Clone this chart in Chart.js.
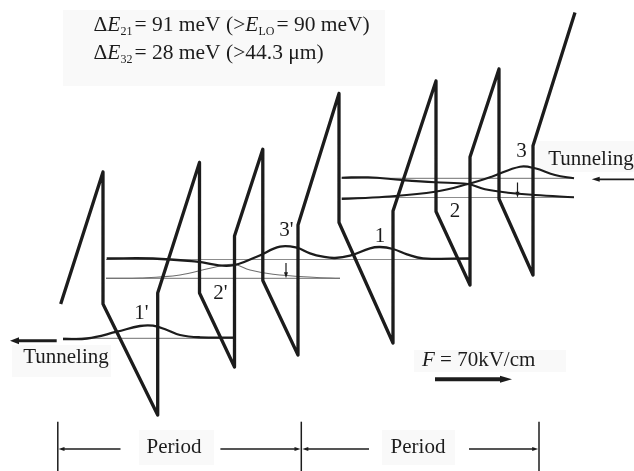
<!DOCTYPE html>
<html>
<head>
<meta charset="utf-8">
<script src="https://cdn.jsdelivr.net/npm/chart.js@4/dist/chart.umd.min.js"></script>
<style>
  html, body { margin: 0; padding: 0; background: #fff; }
  #wrap { width: 634px; height: 471px; }
</style>
</head>
<body>
<div id="wrap"><canvas id="c" width="634" height="471"></canvas></div>
<script>
// conduction band edge, two periods (x = position, y = drawing depth)
const bandX = [60.7, 103, 103, 157.7, 157.7, 199.5, 199.5, 234.5, 234.5, 262.8, 262.8, 298, 298, 339, 339, 393, 393, 436, 436, 470, 470, 499, 499, 533, 533, 575];
const bandY = [304, 172, 304, 415, 293, 162.5, 293, 367, 236, 149.3, 280.5, 355, 225, 93.5, 222.5, 343, 211, 81, 211.5, 285, 157, 69, 199, 275, 145.7, 12.5];

// subband levels (thin lines): [x start, x end, y]
const levelNames = ["1'", "3'/1", "2'", "3", "2"];
const levelX0 = [63, 106, 106, 341.7, 341.7];
const levelX1 = [233.5, 469, 340, 574, 574];
const levelY = [338.3, 259.5, 278.3, 178.3, 197.5];

// wavefunctions |psi|^2 drawn on their levels
const wf1pX = [63, 87, 117, 140, 153, 167, 180, 200, 233.5];
const wf1pY = [339, 338.5, 331.7, 326, 325.7, 330, 335, 337.3, 337.7];
const wf3pX = [106.7, 153, 196.7, 230, 256.7, 280, 296.7, 310, 323, 335, 350, 370, 380, 393, 407, 423, 469];
const wf3pY = [258.5, 258.5, 261.7, 265.7, 256.7, 246.7, 247.7, 253.3, 256.7, 258, 255.7, 248.3, 247, 249, 254.3, 258.3, 258.5];
const wf2pX = [106, 140, 180, 210, 233, 250, 273, 313, 340];
const wf2pY = [278.3, 278, 275, 268.3, 264.3, 270, 274.3, 277.3, 278.3];
const wf2X = [341.7, 368, 401.7, 435, 468, 485, 508, 535, 574];
const wf2Y = [177.7, 177.3, 180, 182.3, 184, 189.3, 192.7, 195, 197.3];
const wf3X = [341.7, 385, 435, 468, 491.7, 520, 535, 555, 574];
const wf3Y = [199, 196.7, 191.7, 184, 176.7, 166.7, 168.3, 175, 178.3];

const ink = '#1c1c1c';
const pts = (xs, ys) => xs.map((x, i) => ({ x, y: ys[i] }));

const datasets = [
  { label: 'band', data: pts(bandX, bandY), borderColor: ink, borderWidth: 3.3, tension: 0, order: 0, borderJoinStyle: 'round' },
  { label: "psi1'", data: pts(wf1pX, wf1pY), borderColor: ink, borderWidth: 2.3, tension: 0.4, order: 2 },
  { label: "psi3'", data: pts(wf3pX, wf3pY), borderColor: ink, borderWidth: 2.3, tension: 0.4, order: 2 },
  { label: "psi2'", data: pts(wf2pX, wf2pY), borderColor: '#6e6e6e', borderWidth: 1.1, tension: 0.4, order: 3 },
  { label: 'psi2', data: pts(wf2X, wf2Y), borderColor: ink, borderWidth: 2.1, tension: 0.4, order: 2 },
  { label: 'psi3', data: pts(wf3X, wf3Y), borderColor: ink, borderWidth: 2.1, tension: 0.4, order: 2 }
];
levelNames.forEach((n, i) => {
  datasets.push({
    label: 'E' + n,
    data: [{ x: levelX0[i], y: levelY[i] }, { x: levelX1[i], y: levelY[i] }],
    borderColor: '#8c8c8c', borderWidth: 1.2, order: 4
  });
});

const serif = '"Liberation Serif", "DejaVu Serif", serif';

// faint scan boxes behind the labels
const boxes = [[63, 10, 385, 86], [12, 345, 111, 377], [414, 350, 566, 372], [139, 430, 214, 465], [382, 430, 455, 465], [536, 141, 634, 172]];

const labels = [
  { t: "1'", x: 141.5, y: 313 }, { t: "2'", x: 220.4, y: 293.5 }, { t: "3'", x: 286.3, y: 230 },
  { t: '1', x: 380, y: 236.5 }, { t: '2', x: 455, y: 211.7 }, { t: '3', x: 521.5, y: 151.7 },
  { t: 'Tunneling', x: 66, y: 357 }, { t: 'Tunneling', x: 591, y: 159 },
  { t: 'Period', x: 174, y: 447 }, { t: 'Period', x: 418, y: 447 }
];

// arrows: from -> to (head at "to"), width, head length, head half width
const arrows = [
  [56.7, 340.7, 10, 340.7, 3, 9, 3.5],
  [634, 179.3, 591.7, 179.3, 1.8, 8, 2.5],
  [435, 379.3, 512, 379.3, 4, 12, 3.5],
  [286, 263, 286, 278.3, 1.2, 6, 2],
  [517.5, 182.5, 517.5, 197.7, 1.2, 6, 2],
  [120.5, 449, 58.5, 449, 1.5, 6, 2],
  [220.4, 449, 300.5, 449, 1.5, 6, 2],
  [369, 449, 302.3, 449, 1.5, 6, 2],
  [469, 449, 538.2, 449, 1.5, 6, 2]
];
const periodEdges = [57.8, 301.3, 539];

const rich1 = [['Δ'], ['E', 'i'], ['21', 's'], ['= 91 meV (>'], ['E', 'i'], ['LO', 's'], ['= 90 meV)']];
const rich2 = [['Δ'], ['E', 'i'], ['32', 's'], ['= 28 meV (>44.3 μm)']];
const richF = [['F', 'i'], [' = 70kV/cm']];

function drawRich(ctx, parts, x, y, size) {
  ctx.textAlign = 'left';
  ctx.textBaseline = 'alphabetic';
  parts.forEach(([t, k]) => {
    const sub = k === 's';
    ctx.font = (k === 'i' ? 'italic ' : '') + (sub ? Math.round(size * 0.55) : size) + 'px ' + serif;
    ctx.fillText(t, x, sub ? y + 4 : y);
    x += ctx.measureText(t).width + (sub ? 2 : 0);
  });
}

const decor = {
  id: 'decor',
  beforeDatasetsDraw(chart) {
    const { ctx, scales: { x, y } } = chart;
    ctx.save();
    ctx.fillStyle = '#f9f9f9';
    boxes.forEach(([a, b, c, d]) => {
      const px = x.getPixelForValue(a), py = y.getPixelForValue(b);
      ctx.fillRect(px, py, x.getPixelForValue(c) - px, y.getPixelForValue(d) - py);
    });
    ctx.restore();
  },
  afterDatasetsDraw(chart) {
    const { ctx, scales: { x, y } } = chart;
    ctx.save();
    ctx.fillStyle = ink;
    ctx.strokeStyle = ink;
    arrows.forEach(([x0, y0, x1, y1, w, hl, hw]) => {
      const a = x.getPixelForValue(x0), b = y.getPixelForValue(y0);
      const c = x.getPixelForValue(x1), d = y.getPixelForValue(y1);
      const ang = Math.atan2(d - b, c - a);
      ctx.lineWidth = w;
      ctx.beginPath();
      ctx.moveTo(a, b);
      ctx.lineTo(c - Math.cos(ang) * hl * 0.8, d - Math.sin(ang) * hl * 0.8);
      ctx.stroke();
      ctx.beginPath();
      ctx.moveTo(c, d);
      ctx.lineTo(c - Math.cos(ang) * hl - Math.sin(ang) * hw, d - Math.sin(ang) * hl + Math.cos(ang) * hw);
      ctx.lineTo(c - Math.cos(ang) * hl + Math.sin(ang) * hw, d - Math.sin(ang) * hl - Math.cos(ang) * hw);
      ctx.closePath();
      ctx.fill();
    });
    ctx.lineWidth = 1.5;
    periodEdges.forEach(px => {
      const p = x.getPixelForValue(px);
      ctx.beginPath();
      ctx.moveTo(p, y.getPixelForValue(421.7));
      ctx.lineTo(p, y.getPixelForValue(471));
      ctx.stroke();
    });
    ctx.font = '21px ' + serif;
    ctx.textAlign = 'center';
    ctx.textBaseline = 'middle';
    labels.forEach(l => ctx.fillText(l.t, x.getPixelForValue(l.x), y.getPixelForValue(l.y)));
    drawRich(ctx, rich1, x.getPixelForValue(93.5), y.getPixelForValue(31), 21.5);
    drawRich(ctx, rich2, x.getPixelForValue(93.5), y.getPixelForValue(59), 21.5);
    drawRich(ctx, richF, x.getPixelForValue(422), y.getPixelForValue(366), 21);
    ctx.restore();
  }
};

new Chart(document.getElementById('c'), {
  type: 'scatter',
  data: { datasets: datasets.map(d => Object.assign({ showLine: true, pointRadius: 0, fill: false }, d)) },
  options: {
    responsive: false,
    animation: false,
    layout: { padding: 0 },
    plugins: { legend: { display: false }, tooltip: { enabled: false } },
    scales: {
      x: { type: 'linear', min: 0, max: 634, display: false },
      y: { type: 'linear', min: 0, max: 471, reverse: true, display: false }
    }
  },
  plugins: [decor]
});
</script>
</body>
</html>
